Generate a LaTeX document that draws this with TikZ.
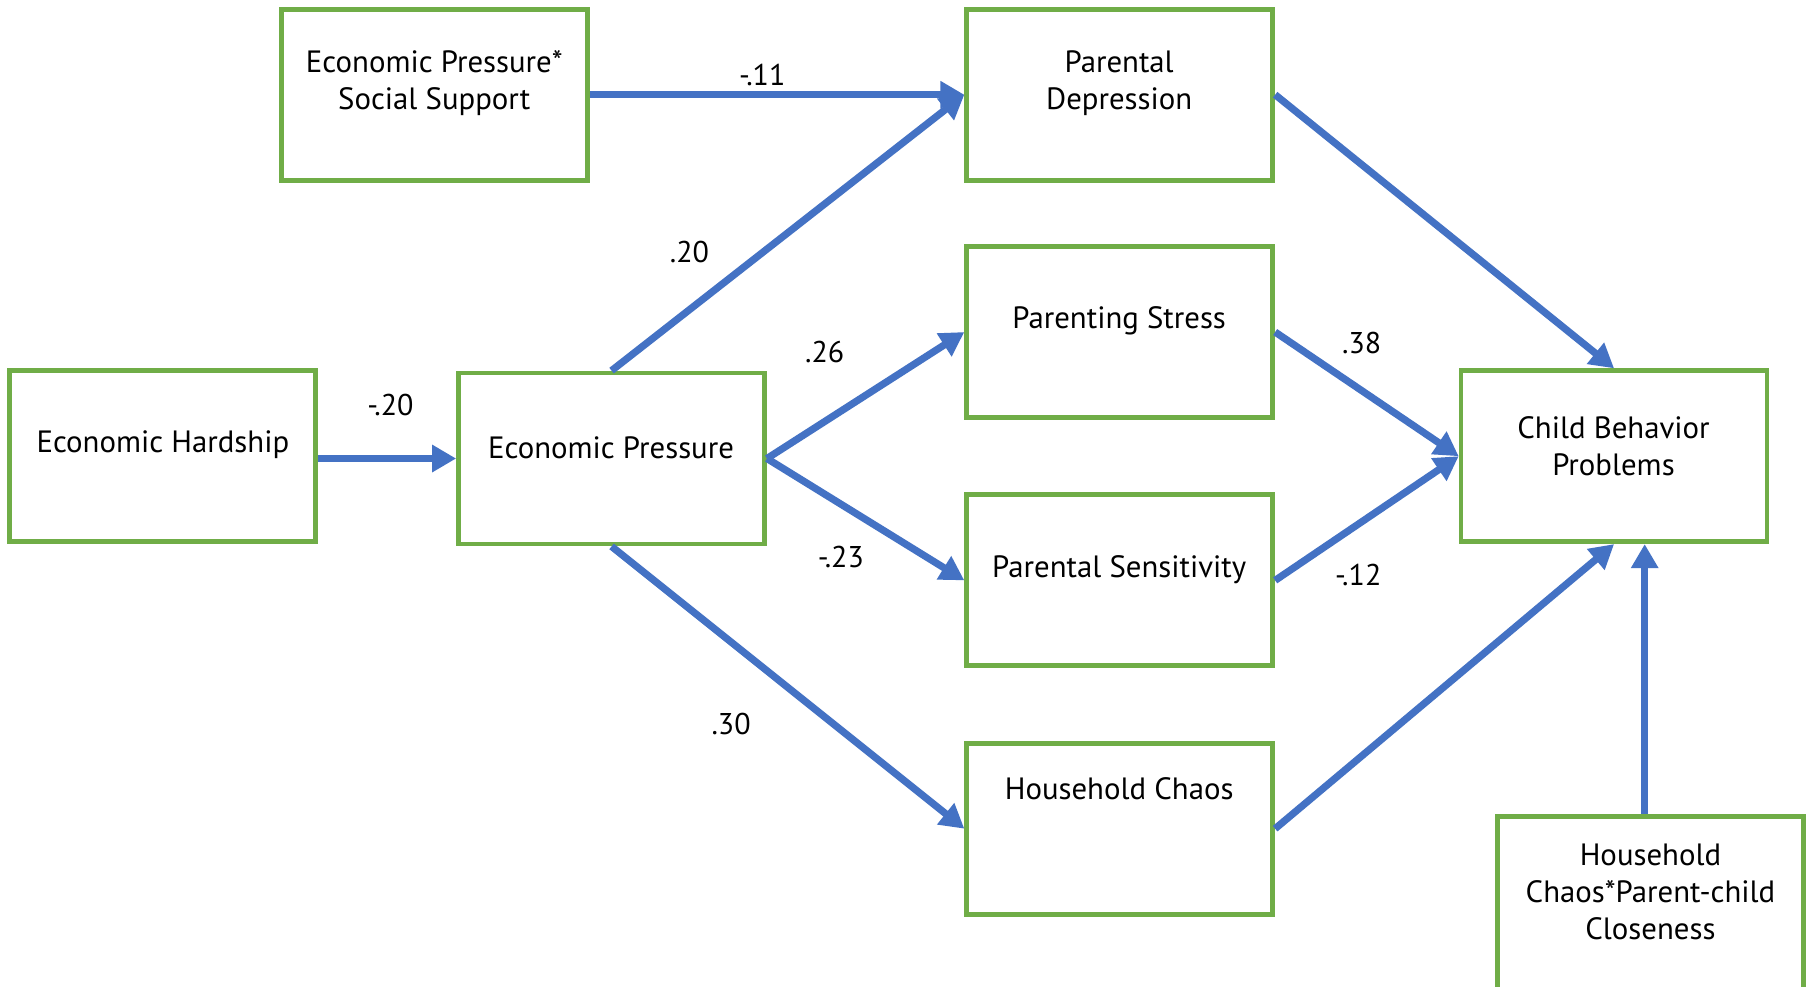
\documentclass[tikz,border=0pt]{standalone}
\usepackage{fontspec}
\setmainfont{PT Sans}
\usetikzlibrary{arrows.meta,calc}
\definecolor{boxgreen}{HTML}{70AD47}
\definecolor{arrowblue}{HTML}{4472C4}
\begin{document}
\begin{tikzpicture}[x=0.5775pt,y=-0.5775pt,
  varbox/.style={draw=boxgreen,line width=2.4pt,fill=white,minimum width=153pt,minimum height=85.5pt,inner sep=0pt},
  varbig/.style={varbox,minimum height=95pt},
  vartext/.style={font=\fontsize{15.4}{18.5}\selectfont,align=center,inner sep=0pt},
  coef/.style={font=\fontsize{15}{17}\selectfont,inner sep=0pt},
  path/.style={draw=arrowblue,line width=3.6pt,-{Triangle[length=12pt,width=13pt]}}]
\clip (0,0) rectangle (1568,854);
\fill[white] (0,0) rectangle (1568,854);
% boxes
\node[varbox] (epss) at (376.5,82) {};
\node[varbox] (pd) at (969.5,82) {};
\node[varbox] (ps) at (969.5,287.5) {};
\node[varbox] (psen) at (969.5,502.5) {};
\node[varbox] (hc) at (969.5,717.5) {};
\node[varbox] (eh) at (141,395) {};
\node[varbox] (ep) at (529.5,397) {};
\node[varbox] (cbp) at (1397.5,395) {};
\node[varbig] (hcpc) at (1429,789) {};
% texts
\node[vartext] (tepss) at (376,72) {Economic Pressure*\\Social Support};
\node[vartext] (tpd) at (969,72) {Parental\\Depression};
\node[vartext] (tps) at (969,278) {Parenting Stress};
\node[vartext] (tpsen) at (969,493) {Parental Sensitivity};
\node[vartext] (thc) at (969,683) {Household Chaos};
\node[vartext] (teh) at (141,385) {Economic Hardship};
\node[vartext] (tep) at (529,388) {Economic Pressure};
\node[vartext] (tcbp) at (1397,386) {Child Behavior\\Problems};
\node[vartext] (thcpc) at (1429,772) {Household\\Chaos*Parent-child\\Closeness};
% paths
\draw[path] (epss.east) -- (pd.west);
\draw[path] (ep.north) -- (pd.west);
\draw[path] (ep.east) -- (ps.west);
\draw[path] (ep.east) -- (psen.west);
\draw[path] (ep.south) -- (hc.west);
\draw[path] (eh.east |- ep.west) -- (ep.west);
\draw[path] (pd.east) -- (cbp.north);
\draw[path] (ps.east) -- (cbp.west);
\draw[path] (psen.east) -- (cbp.west);
\draw[path] (hc.east) -- (cbp.south);
\coordinate (hcpctop) at ($(hcpc.north)+(-5,0)$);
\draw[path] (hcpctop) -- (hcpctop |- cbp.south);
% coefficients
\node[coef] (c1) at (660,65) {-.11};
\node[coef] (c2) at (597,218) {.20};
\node[coef] (c3) at (714,305) {.26};
\node[coef] (c4) at (728,482) {-.23};
\node[coef] (c5) at (633,627) {.30};
\node[coef] (c6) at (338,351) {-.20};
\node[coef] (c7) at (1179,297) {.38};
\node[coef] (c8) at (1176,498) {-.12};
\end{tikzpicture}
\end{document}
